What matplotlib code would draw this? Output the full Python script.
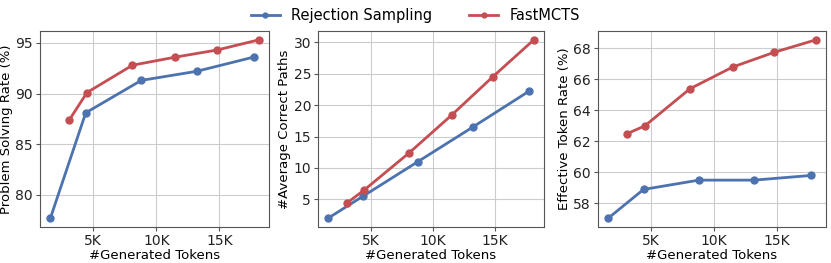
import matplotlib.pyplot as plt
from matplotlib.ticker import FuncFormatter

# tokens (x) for each method
rs_tokens = [1600, 4400, 8800, 13200, 17700]
mcts_tokens = [3100, 4500, 8100, 11500, 14800, 18100]

# problem solving rate (%)
rs_solve = [77.7, 88.1, 91.3, 92.2, 93.6]
mcts_solve = [87.4, 90.1, 92.8, 93.6, 94.3, 95.3]

# average correct paths
rs_paths = [2.0, 5.5, 11.0, 16.5, 22.2]
mcts_paths = [4.4, 6.5, 12.4, 18.4, 24.5, 30.4]

# effective token rate (%)
rs_eff = [57.05, 58.9, 59.5, 59.5, 59.8]
mcts_eff = [62.5, 63.0, 65.4, 66.8, 67.75, 68.55]

blue = "#4C72B0"
red = "#C44E52"

k_format = FuncFormatter(lambda value, position: f"{value / 1000:.0f}K")

fig = plt.figure(figsize=(8.31, 2.63), dpi=100)
W, H = 831, 263
boxes = [(40, 269), (318, 544), (598, 826)]
top, bottom = 31, 227

panels = [
    (rs_solve, mcts_solve, "Problem Solving Rate (%)", [80, 85, 90, 95]),
    (rs_paths, mcts_paths, "#Average Correct Paths", [5, 10, 15, 20, 25, 30]),
    (rs_eff, mcts_eff, "Effective Token Rate (%)", [58, 60, 62, 64, 66, 68]),
]

for (left, right), (rs_vals, mcts_vals, ylabel, yticks) in zip(boxes, panels):
    ax = fig.add_axes([left / W, 1 - bottom / H, (right - left) / W, (bottom - top) / H])
    ax.plot(rs_tokens, rs_vals, color=blue, lw=2, marker="o", ms=5, label="Rejection Sampling")
    ax.plot(mcts_tokens, mcts_vals, color=red, lw=2, marker="o", ms=5, label="FastMCTS")
    ax.set_xticks([5000, 10000, 15000])
    ax.xaxis.set_major_formatter(k_format)
    ax.set_yticks(yticks)
    ax.grid(True, color="#cccccc", lw=0.8)
    ax.set_axisbelow(True)
    for s in ax.spines.values():
        s.set_color("#555555")
    ax.tick_params(labelsize=10, colors="#222222", length=3, pad=2, color="#555555")
    ax.set_xlabel("#Generated Tokens", fontsize=9.5, labelpad=1)
    ax.set_ylabel(ylabel, fontsize=9.5, labelpad=2)

handles, labels = ax.get_legend_handles_labels()
fig.legend(handles, labels, loc="upper center", bbox_to_anchor=(0.5, 1.02), ncol=2,
           frameon=False, fontsize=10.5, markerscale=0.7, columnspacing=2.5)

plt.savefig("out.png", dpi=100)
plt.close()
